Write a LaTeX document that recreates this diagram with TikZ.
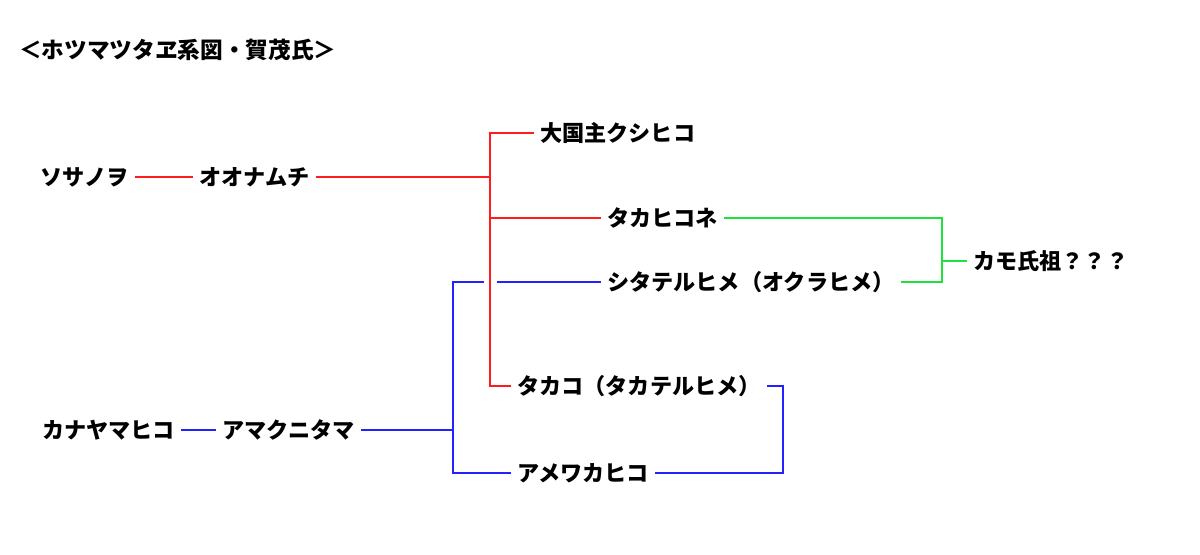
\documentclass[tikz,border=0pt]{standalone}
\usepackage{fontspec}
\usepackage{tikz}
\usetikzlibrary{calc}
\newfontfamily\jpfont{Noto Sans CJK JP}
\definecolor{kred}{RGB}{255,28,28}
\definecolor{kblue}{RGB}{34,34,255}
\definecolor{kgreen}{RGB}{30,226,60}

\begin{document}
\begin{tikzpicture}[x=0.75pt, y=-0.75pt, every node/.style={font=\jpfont\bfseries\fontsize{16.6pt}{18pt}\selectfont},
  person/.style={anchor=west, inner xsep=4.5pt, inner ysep=0pt},
  redl/.style={draw=kred, line width=1.7pt},
  bluel/.style={draw=kblue, line width=1.7pt},
  greenl/.style={draw=kgreen, line width=1.7pt}]
\useasboundingbox (0,0) rectangle (1200,555);
\node[person, font=\jpfont\bfseries\fontsize{17pt}{18pt}\selectfont] (title) at (13,50) {＜ホツマツタヱ系図・賀茂氏＞};
\node[person] (susa) at (34,177) {ソサノヲ};
\node[person] (oonamuchi) at (193,177) {オオナムチ};
\node[person] (okuni) at (534,133) {大国主クシヒコ};
\node[person] (takahikone) at (601,218) {タカヒコネ};
\node[person] (shitateru) at (601,282) {シタテルヒメ（オクラヒメ）};
\node[person] (kamo) at (967,261) {カモ氏祖？？？};
\node[person] (takako) at (511,386) {タカコ（タカテルヒメ）};
\node[person] (amewaka) at (511,473) {アメワカヒコ};
\node[person] (kanaya) at (36,430) {カナヤマヒコ};
\node[person] (amakuni) at (216,430) {アマクニタマ};
\coordinate (rj) at (490,177);
\coordinate (bj) at (453,430);
\coordinate (br) at (783,430);
\coordinate (gj) at (942,261);
\draw[redl] (susa) -- (oonamuchi); \draw[redl] (oonamuchi) -- (rj);
\draw[redl] (okuni.west) -| (rj) |- (takako.west); \draw[redl] (rj |- takahikone.west) -- (takahikone.west);
\draw[bluel] (kanaya) -- (amakuni); \draw[bluel] (amakuni) -- (bj);
\draw[bluel] (amewaka.west) -| (bj) |- ([xshift=-4.5pt]rj |- shitateru.west);
\draw[bluel] ([xshift=5pt]rj |- shitateru.west) -- (shitateru.west);
\draw[bluel] (takako.east) -| (br) |- (amewaka.east);
\draw[greenl] (takahikone.east) -| (gj) |- (shitateru.east); \draw[greenl] (gj) -- (kamo);
\end{tikzpicture}
\end{document}
